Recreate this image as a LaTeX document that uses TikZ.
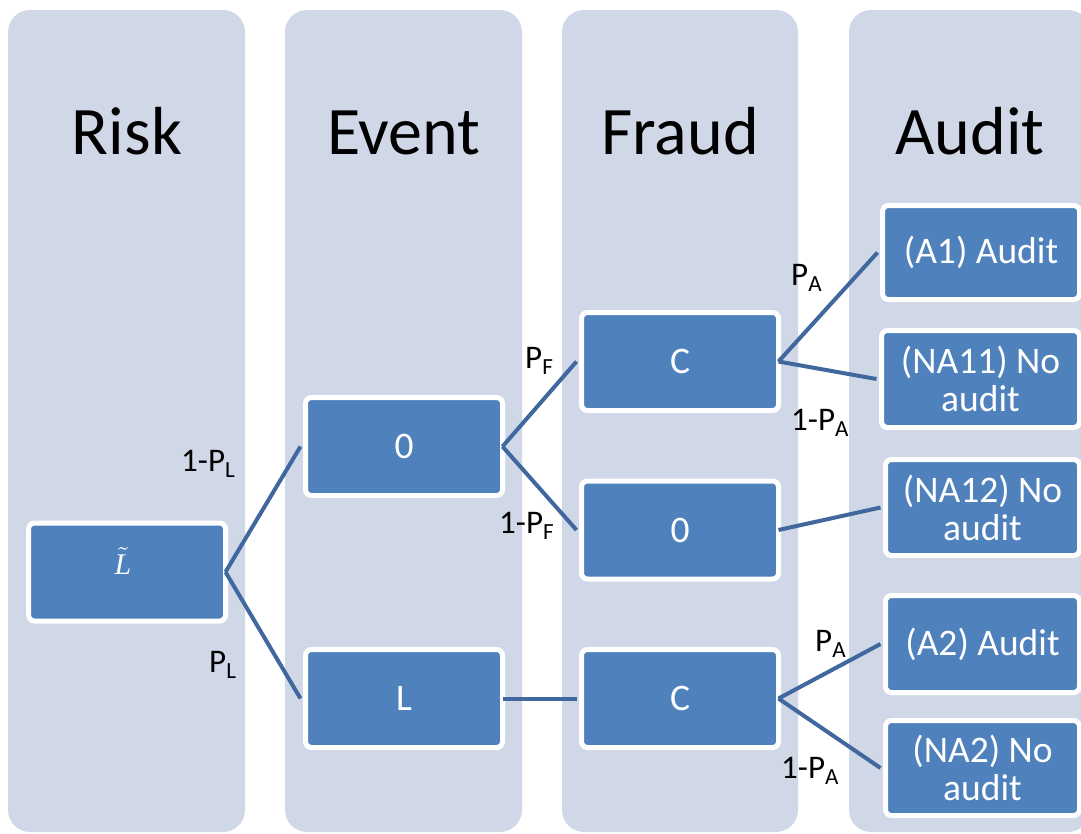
\documentclass[tikz,border=0pt]{standalone}
\usepackage{graphicx}
\usepackage{fontspec}
\setmainfont{Carlito}
\newfontfamily\serifit{Liberation Serif}
\definecolor{colbg}{RGB}{208,216,232}
\definecolor{boxfill}{RGB}{79,129,189}
\definecolor{linkcol}{RGB}{64,104,158}
\begin{document}
\begin{tikzpicture}[x=1pt,y=-1pt,
  lane/.style={fill=colbg, rounded corners=22pt},
  lanetitle/.style={font=\fontsize{68}{80}\selectfont, anchor=base, text=black, inner sep=0pt},
  box/.style={rectangle, rounded corners=6pt, fill=boxfill, draw=white, line width=5pt,
    text=white, font=\fontsize{37.5}{38}\selectfont, align=center,
    minimum width=197pt, minimum height=98pt, inner sep=0pt},
  link/.style={draw=linkcol, line width=4pt},
  prob/.style={font=\fontsize{33}{38}\selectfont, anchor=base west, inner sep=0pt, text=black}]
\useasboundingbox (0,0) rectangle (1081,833);
% lanes
\fill[lane] (8,10) rectangle (245,832);
\fill[lane] (285,10) rectangle (522,832);
\fill[lane] (562,10) rectangle (798,832);
\fill[lane] (849,10) rectangle (1090,832);
% titles
\node[lanetitle] (tRisk) at (127,154) {Risk};
\node[lanetitle] (tEvent) at (404,154) {Event};
\node[lanetitle] (tFraud) at (680,154) {Fraud};
\node[lanetitle] (tAudit) at (970,154) {Audit};
% nodes
\node[box, font=\fontsize{10}{12}\selectfont] (Lt) at (127,572)
  {\raisebox{-2.5pt}[0pt][0pt]{\makebox[0pt][c]{\scalebox{3.0}{$\tilde{\mbox{\serifit\itshape L}}$}}}\hspace*{8pt}};
\node[box] (E0) at (404,446.5) {0};
\node[box] (EL) at (404,698.5) {L};
\node[box] (Ct) at (680,361.5) {C};
\node[box] (F0) at (680,530) {0};
\node[box] (Cb) at (680,698.5) {C};
\node[box, minimum width=197pt, minimum height=94pt] (A1) at (981,252.5) {(A1) Audit};
\node[box, minimum width=198pt, minimum height=97pt] (NA11) at (980.5,379) {(NA11) No\\audit};
\node[box, minimum width=194pt, minimum height=96pt] (NA12) at (982.5,507.5) {(NA12) No\\audit};
\node[box, minimum width=194pt, minimum height=97pt] (A2) at (982.5,644) {(A2) Audit};
\node[box, minimum width=194pt, minimum height=95pt] (NA2) at (982.5,768) {(NA2) No\\audit};
% connectors
\draw[link] ([xshift=-2.5pt]Lt.east) -- ([xshift=-2.5pt]E0.west);
\draw[link] ([xshift=-2.5pt]Lt.east) -- ([xshift=-2.5pt]EL.west);
\draw[link] ([xshift=-2.5pt]E0.east) -- ([xshift=-2.5pt]Ct.west);
\draw[link] ([xshift=-2.5pt]E0.east) -- ([xshift=-2.5pt]F0.west);
\draw[link] ([xshift=-2.5pt]EL.east) -- ([xshift=-2.5pt]Cb.west);
\draw[link] ([xshift=-2.5pt]Ct.east) -- ([xshift=-2.5pt]A1.west);
\draw[link] ([xshift=-2.5pt]Ct.east) -- ([xshift=-2.5pt]NA11.west);
\draw[link] ([xshift=-2.5pt]F0.east) -- ([xshift=-2.5pt]NA12.west);
\draw[link] ([xshift=-2.5pt]Cb.east) -- ([xshift=-2.5pt]A2.west);
\draw[link] ([xshift=-2.5pt]Cb.east) -- ([xshift=-2.5pt]NA2.west);
% probability labels
\node[prob] (pL1) at (181,471) {1-P\textsubscript{L}};
\node[prob] (pL) at (209,672.7) {P\textsubscript{L}};
\node[prob] (pF) at (525,368) {P\textsubscript{F}};
\node[prob] (pF1) at (499,533) {1-P\textsubscript{F}};
\node[prob] (pA) at (791,285) {P\textsubscript{A}};
\node[prob] (pA1) at (791,430) {1-P\textsubscript{A}};
\node[prob] (pAb) at (815,651) {P\textsubscript{A}};
\node[prob] (pA1b) at (781,778) {1-P\textsubscript{A}};
\end{tikzpicture}
\end{document}
